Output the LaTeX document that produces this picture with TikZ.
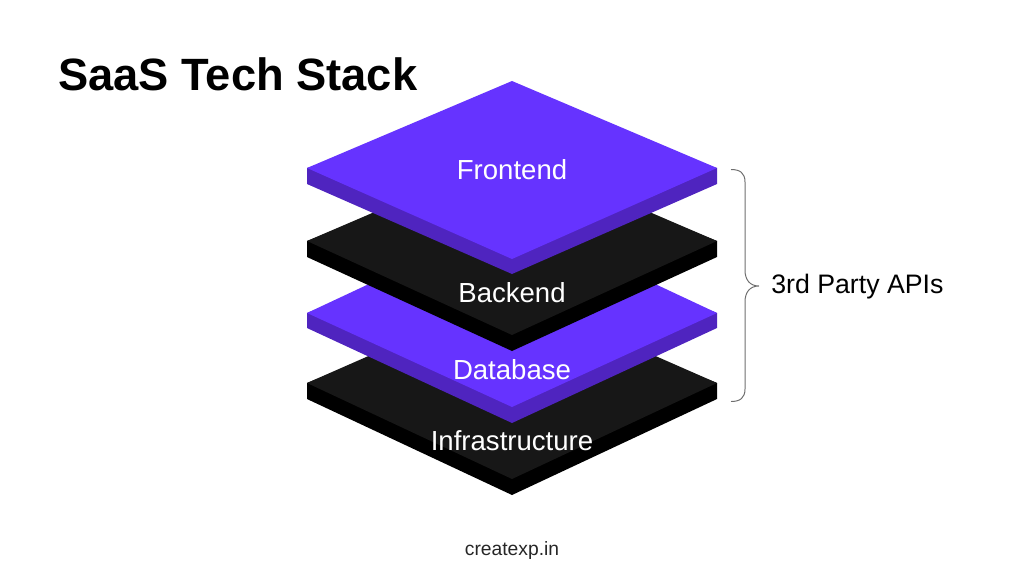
\documentclass[tikz,border=0pt]{standalone}
\usepackage{fontspec}
\setmainfont{Liberation Sans}
\definecolor{violettop}{HTML}{6633FF}
\definecolor{violetside}{HTML}{4F24BF}
\definecolor{blacktop}{HTML}{171717}
\definecolor{blackside}{HTML}{000000}
\definecolor{bracegrey}{HTML}{6E6E6E}
\tikzset{
  violetplate/.style={fill=violettop},
  violetedge/.style={fill=violetside},
  blackplate/.style={fill=blacktop},
  blackedge/.style={fill=blackside},
  platelabel/.style={text=white, inner sep=0pt, font=\fontsize{19.6pt}{23pt}\selectfont},
  sidelabel/.style={text=black, inner sep=0pt, anchor=west, font=\fontsize{19pt}{23pt}\selectfont},
  titlelabel/.style={text=black, inner sep=0pt, anchor=west, font=\fontsize{32.2pt}{38pt}\selectfont\bfseries},
  footlabel/.style={text=black!85, inner sep=0pt, font=\fontsize{13.7pt}{16pt}\selectfont},
  bracket/.style={draw=bracegrey, line width=0.7pt}
}
\begin{document}
\begin{tikzpicture}[x=0.025cm, y=-0.025cm]
      \useasboundingbox (0, 0) rectangle (1024, 572);

      \node[titlelabel] (title) at (58, 74){SaaS Tech Stack};

      % infrastructure
      \fill[blackedge](307, 383) -- (307, 399) -- (512, 495) -- (717, 399) -- (717, 383) -- (512, 300) -- cycle;
      \fill[blackplate](307, 383) -- (512, 293) -- (717, 383) -- (512, 479) -- cycle;
      % database
      \fill[violetedge](307, 313) -- (307, 328) -- (512, 423) -- (717, 328) -- (717, 313) -- (512, 230) -- cycle;
      \fill[violetplate](307, 313) -- (512, 217) -- (717, 313) -- (512, 407) -- cycle;
      % backend
      \fill[blackedge](307, 241) -- (307, 257) -- (512, 351) -- (717, 257) -- (717, 241) -- (512, 160) -- cycle;
      \fill[blackplate](307, 241) -- (512, 153) -- (717, 241) -- (512, 335) -- cycle;
      % frontend
      \fill[violetedge](307, 168) -- (307, 184) -- (512, 274) -- (717, 184) -- (717, 168) -- (512, 100) -- cycle;
      \fill[violetplate](307, 168) -- (512, 81) -- (717, 168) -- (512, 259) -- cycle;

      \node[platelabel] (frontend) at (512, 170){Frontend};
      \node[platelabel] (backend) at (512, 293){Backend};
      \node[platelabel] (database) at (512, 370){Database};
      \node[platelabel] (infrastructure) at (512, 441){Infrastructure};

      \draw[bracket](731, 169.5) .. controls (740, 169.5) and (745, 173) .. (745, 182)
        -- (745, 270) .. controls (745, 280) and (750, 286) .. (759, 286)
        .. controls (750, 286) and (745, 292) .. (745, 302)
        -- (745, 389) .. controls (745, 398) and (740, 401.5) .. (731, 401.5);

      \node[sidelabel] (apis) at (771, 287){3rd Party APIs};
      \node[footlabel] (site) at (512, 551){createxp.in};
    \end{tikzpicture}
\end{document}
